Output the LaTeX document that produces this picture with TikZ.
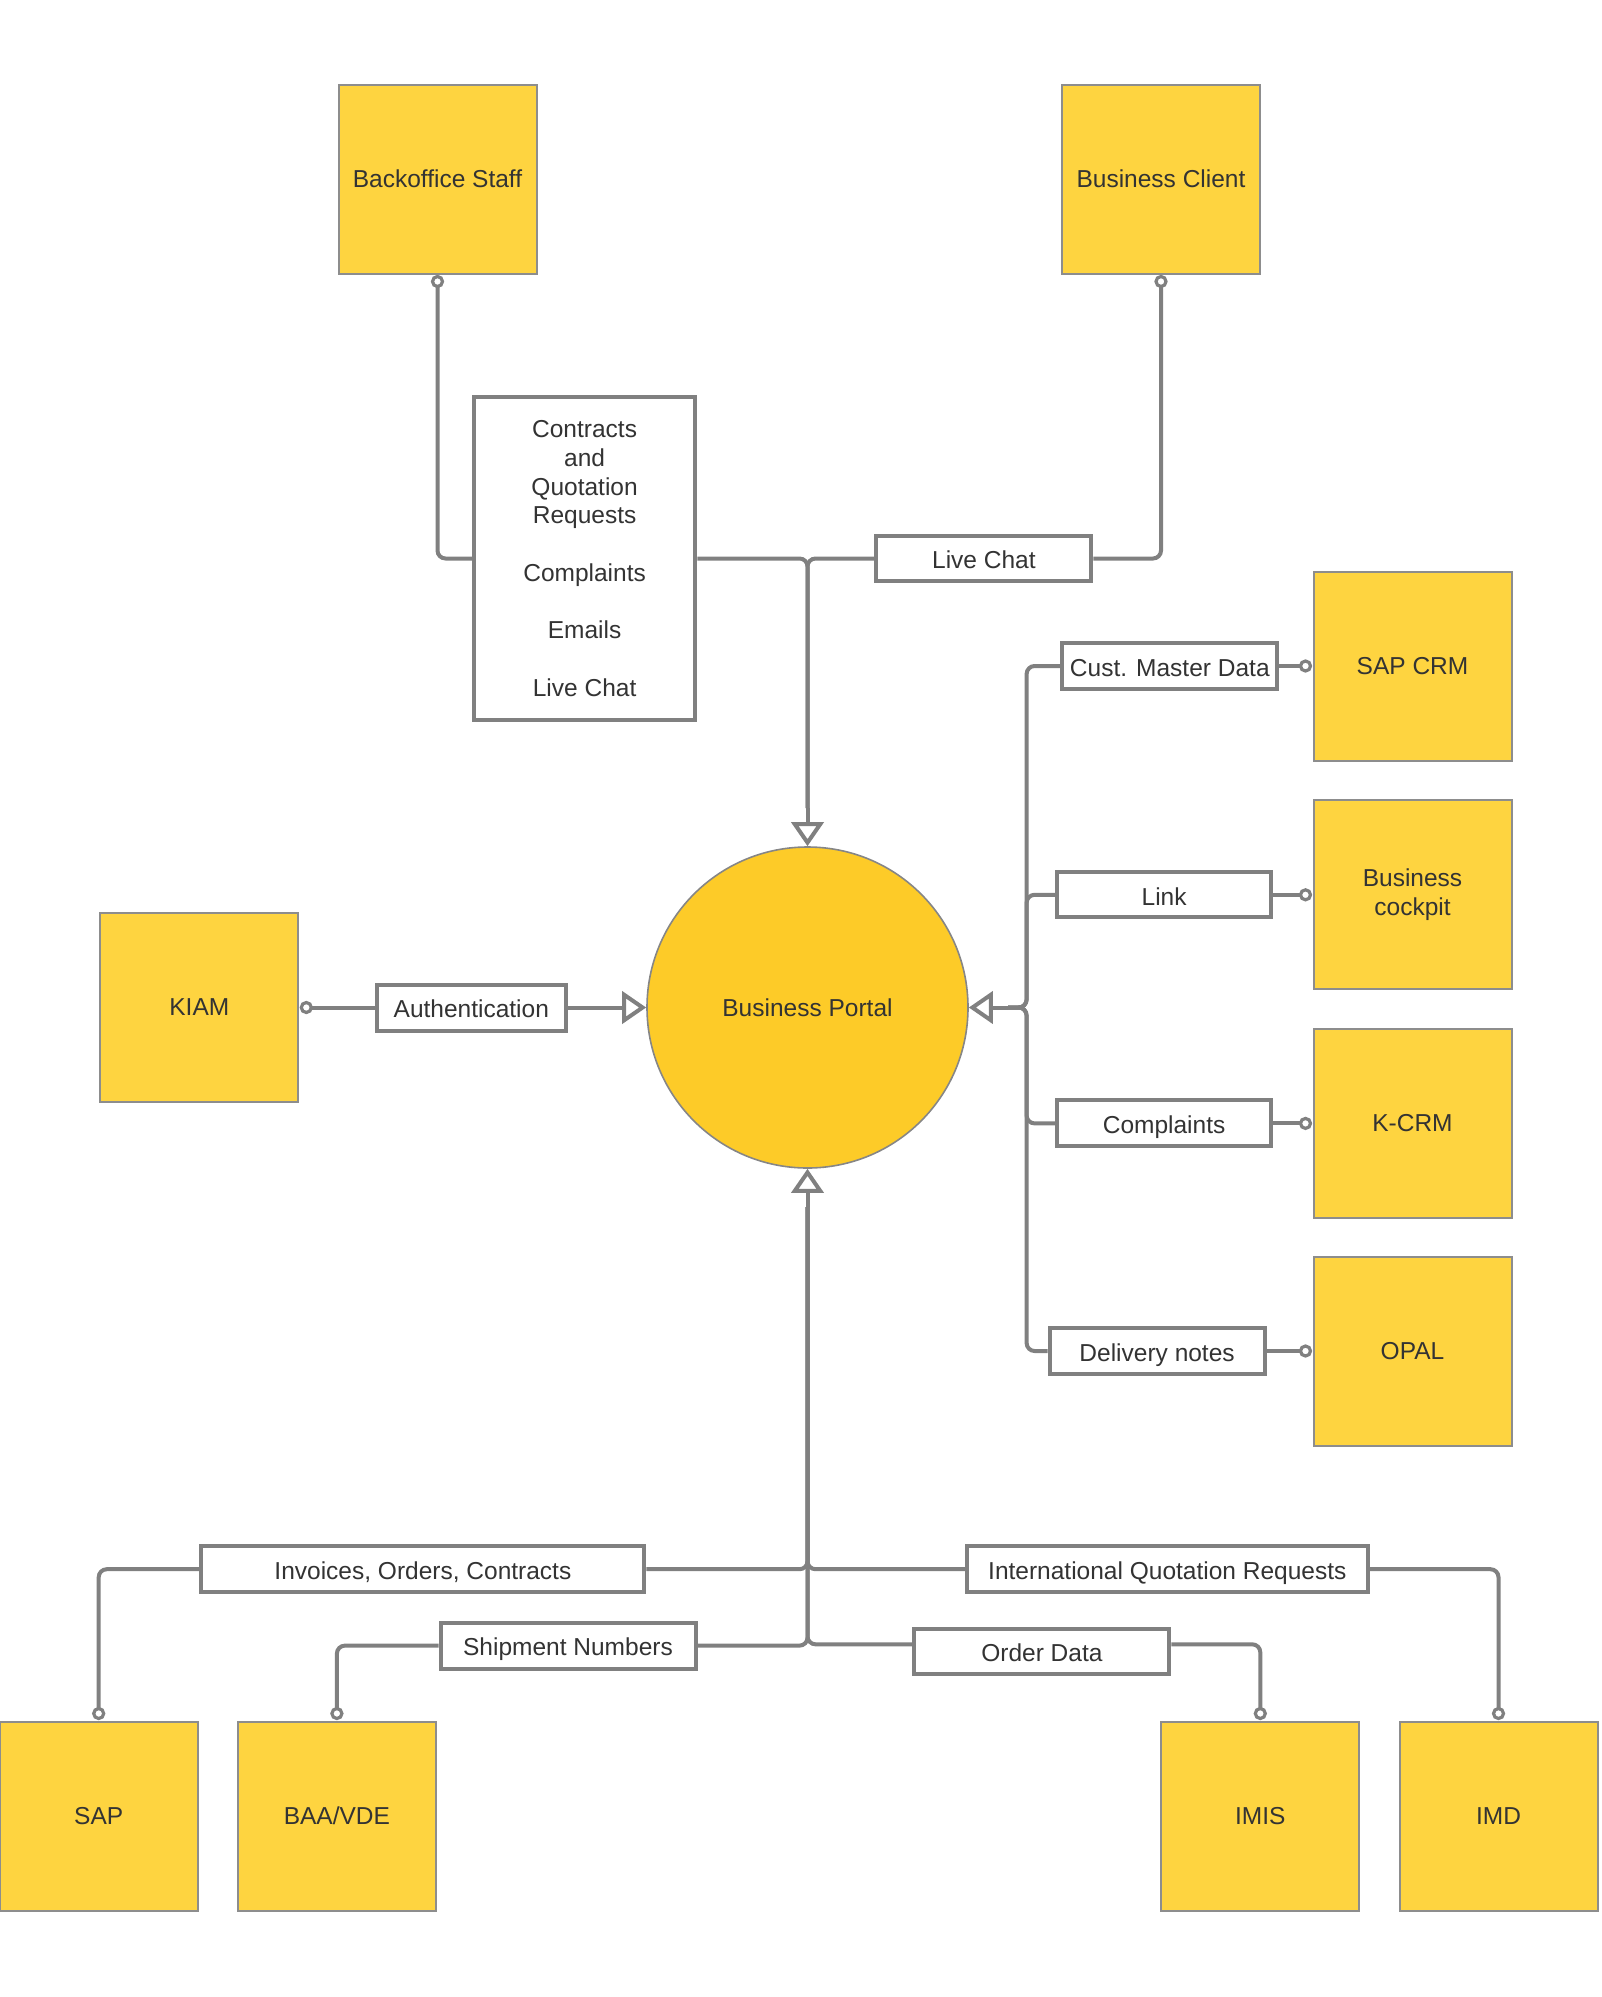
\documentclass[tikz,border=0pt]{standalone}
\usepackage{fontspec}
\setmainfont{Liberation Sans}
\usetikzlibrary{arrows.meta,calc}
\definecolor{linegray}{HTML}{808080}
\definecolor{boxyellow}{HTML}{FED440}
\definecolor{portalyellow}{HTML}{FDCB28}
\definecolor{txt}{HTML}{333333}
\tikzset{
  lbl/.style={font=\fontsize{24.5}{28.7}\selectfont, text=txt},
  sq/.style={lbl, draw=linegray!90, line width=2pt, fill=boxyellow, minimum width=198pt, minimum height=189pt, inner sep=0pt, align=center},
  tag/.style={lbl, draw=linegray, line width=4pt, fill=white, minimum height=45pt, inner sep=0pt, align=center},
  onetag/.style={lbl, draw=linegray, line width=4pt, fill=white, minimum height=45pt, inner sep=0pt, text height=20.5pt, text depth=0pt},
  conn/.style={draw=linegray, line width=4pt, rounded corners=8pt},
  arr/.style={draw=linegray, line width=4pt, -{Triangle[length=24pt, width=32pt, fill=white]}},
  port/.style={draw=linegray, line width=3.2pt, fill=white, circle, inner sep=0pt, minimum size=10pt}
}
\begin{document}
\begin{tikzpicture}[x=1pt,y=-1pt]
\useasboundingbox (0,0) rectangle (1601,1997);

% squares
\node[sq] (bos) at (437.5,179) {Backoffice Staff};
\node[sq] (bc) at (1161,179) {Business Client};
\node[sq] (kiam) at (199.3,1007.5) {KIAM};
\node[sq] (sapcrm) at (1412.5,666) {SAP CRM};
\node[sq] (bcock) at (1412.5,894.8) {Business\\cockpit};
\node[sq] (kcrm) at (1412.5,1123.4) {K-CRM};
\node[sq] (opal) at (1412.5,1351) {OPAL};
\node[sq] (sap) at (98.7,1816) {SAP};
\node[sq] (baa) at (336.9,1816) {BAA/VDE};
\node[sq] (imis) at (1260.3,1816) {IMIS};
\node[sq] (imd) at (1498.5,1816) {IMD};

% portal
\node[lbl, circle, draw=linegray!95, line width=1.6pt, fill=portalyellow, minimum size=321pt, inner sep=0pt] (portal) at (807.5,1007.5) {Business Portal};

% label boxes
\node[tag, minimum width=221.6pt, minimum height=323.5pt] (contracts) at (584.6,558.5)
  {Contracts\\and\\Quotation\\Requests\\[28.7pt]Complaints\\[28.7pt]Emails\\[28.7pt]Live Chat};
\node[onetag, minimum width=215pt] (livechat) at (983.9,558.5) {Live Chat};
\node[onetag, minimum width=188.5pt, minimum height=46pt] (auth) at (471.3,1007.5) {Authentication};
\node[onetag, minimum width=215pt, minimum height=46pt] (cmd) at (1169.8,666) {Cust. Master Data};
\node[onetag, minimum width=214pt] (link) at (1164.1,894.8) {Link};
\node[onetag, minimum width=214pt, minimum height=46pt] (compl) at (1164.1,1123.4) {Complaints};
\node[onetag, minimum width=215pt, minimum height=46pt] (deliv) at (1157.1,1351) {Delivery notes};
\node[onetag, minimum width=443pt, minimum height=46pt] (inv) at (422.9,1569.2) {Invoices, Orders, Contracts};
\node[onetag, minimum width=255pt, minimum height=46pt] (ship) at (568,1645.6) {Shipment Numbers};
\node[onetag, minimum width=401pt, minimum height=46pt] (iqr) at (1167.3,1569.2) {International Quotation Requests};
\node[onetag, minimum width=255pt] (order) at (1041.9,1651.3) {Order Data};

% small port coordinates
\coordinate (bosc) at ([yshift=-7pt]bos.south);
\coordinate (bcc) at ([yshift=-7pt]bc.south);
\coordinate (kiamc) at ([xshift=7pt]kiam.east);
\coordinate (sapcrmc) at ([xshift=-7pt]sapcrm.west);
\coordinate (bcockc) at ([xshift=-7pt]bcock.west);
\coordinate (kcrmc) at ([xshift=-7pt]kcrm.west);
\coordinate (opalc) at ([xshift=-7pt]opal.west);
\coordinate (sapc) at ([yshift=7pt]sap.north);
\coordinate (baac) at ([yshift=7pt]baa.north);
\coordinate (imisc) at ([yshift=7pt]imis.north);
\coordinate (imdc) at ([yshift=7pt]imd.north);

% junction coordinates
\coordinate (topj) at (807.5,808);
\coordinate (rbus) at (1026.6,1007.5);
\coordinate (rj) at (1008,1007.5);
\coordinate (bj) at (807.5,1207);

% top connectors
\draw[conn] (bosc) |- (contracts.west);
\draw[conn] (bcc) |- (livechat.east);
\draw[conn] (contracts.east) -| (topj);
\draw[conn] (livechat.west) -| (topj);
\draw[arr] (topj) -- (portal.north);

% left
\draw[conn] (kiamc) -- (auth.west);
\draw[arr] (auth.east) -- (portal.west);

% right
\draw[conn] (sapcrmc) -- (cmd.east);
\draw[conn] (bcockc) -- (link.east);
\draw[conn] (kcrmc) -- (compl.east);
\draw[conn] (opalc) -- (deliv.east);
\draw[conn] (cmd.west) -| (rbus) -- (rj);
\draw[conn] (link.west) -| (rbus) -- (rj);
\draw[conn] (compl.west) -| (rbus) -- (rj);
\draw[conn] (deliv.west) -| (rbus) -- (rj);
\draw[arr] (rj) -- (portal.east);

% bottom
\draw[conn] (sapc) |- (inv.west);
\draw[conn] (inv.east) -| (bj);
\draw[conn] (baac) |- (ship.west);
\draw[conn] (ship.east) -| (bj);
\draw[conn] (imdc) |- (iqr.east);
\draw[conn] (iqr.west) -| (bj);
\draw[conn] (imisc) |- ([yshift=7pt]order.east);
\draw[conn] ([yshift=7pt]order.west) -| (bj);
\draw[arr] (bj) -- (portal.south);

% ports
\foreach \p in {bosc,bcc,kiamc,sapcrmc,bcockc,kcrmc,opalc,sapc,baac,imisc,imdc}
  \node[port] at (\p) {};
\end{tikzpicture}
\end{document}
